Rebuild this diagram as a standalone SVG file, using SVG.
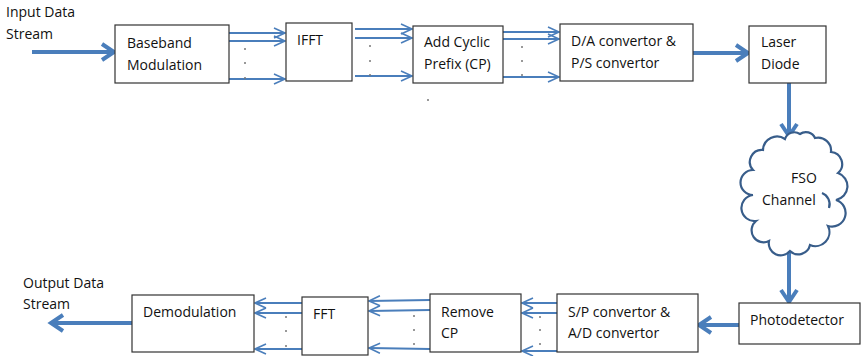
<svg xmlns="http://www.w3.org/2000/svg" width="861" height="356" viewBox="0 0 861 356">
<defs>
<marker id="thin" markerUnits="userSpaceOnUse" markerWidth="14" markerHeight="14" refX="12" refY="7" orient="auto" overflow="visible">
<path d="M1,2 L12,7 L1,12" fill="none" stroke="#4a7ebb" stroke-width="1.6"/>
</marker>
<marker id="thick" markerUnits="userSpaceOnUse" markerWidth="20" markerHeight="20" refX="14" refY="10" orient="auto" overflow="visible">
<path d="M2,2 L14,10 L2,18" fill="none" stroke="#4a7ebb" stroke-width="4"/>
</marker>
</defs>
<style>
.box{fill:#fff;stroke:#333;stroke-width:1.2}
.t{font-family:"Open Sans","Liberation Sans",sans-serif;font-size:14px;fill:#111}
.ln{stroke:#4a7ebb;stroke-width:2;fill:none}
.th{stroke:#4a7ebb;stroke-width:4;fill:none}
.dot{fill:#777}
</style>
<g id="labels">
<text class="t" x="6" y="17">Input Data</text>
<text class="t" x="6" y="39">Stream</text>
<text class="t" x="23" y="288">Output Data</text>
<text class="t" x="23" y="309">Stream</text>
</g>
<g id="connectors">
<line class="th" x1="32" y1="52" x2="114" y2="52" marker-end="url(#thick)"/>
<line class="ln" x1="229" y1="33" x2="285" y2="33" marker-end="url(#thin)"/>
<line class="ln" x1="229" y1="41" x2="285" y2="41" marker-end="url(#thin)"/>
<line class="ln" x1="229" y1="79" x2="285" y2="79" marker-end="url(#thin)"/>
<line class="ln" x1="355" y1="29" x2="412" y2="29" marker-end="url(#thin)"/>
<line class="ln" x1="355" y1="38" x2="412" y2="38" marker-end="url(#thin)"/>
<line class="ln" x1="355" y1="76" x2="412" y2="76" marker-end="url(#thin)"/>
<line class="ln" x1="503" y1="32" x2="559" y2="32" marker-end="url(#thin)"/>
<line class="ln" x1="503" y1="39" x2="559" y2="39" marker-end="url(#thin)"/>
<line class="ln" x1="503" y1="77" x2="559" y2="77" marker-end="url(#thin)"/>
<line class="th" x1="693" y1="53" x2="748" y2="53" marker-end="url(#thick)"/>
<line class="th" x1="789" y1="83" x2="789" y2="136" marker-end="url(#thick)"/>
<line class="th" x1="789" y1="250" x2="789" y2="302" marker-end="url(#thick)"/>
<line class="th" x1="739" y1="325" x2="699" y2="325" marker-end="url(#thick)"/>
<line class="ln" x1="557" y1="303" x2="522" y2="303" marker-end="url(#thin)"/>
<line class="ln" x1="557" y1="313" x2="522" y2="313" marker-end="url(#thin)"/>
<line class="ln" x1="557" y1="351" x2="522" y2="351" marker-end="url(#thin)"/>
<line class="ln" x1="430" y1="300" x2="369" y2="301" marker-end="url(#thin)"/>
<line class="ln" x1="430" y1="310" x2="369" y2="311" marker-end="url(#thin)"/>
<line class="ln" x1="430" y1="349" x2="369" y2="348" marker-end="url(#thin)"/>
<line class="ln" x1="302" y1="303" x2="255" y2="303" marker-end="url(#thin)"/>
<line class="ln" x1="302" y1="313" x2="255" y2="313" marker-end="url(#thin)"/>
<line class="ln" x1="302" y1="349" x2="255" y2="349" marker-end="url(#thin)"/>
<line class="th" x1="132" y1="323" x2="51" y2="323" marker-end="url(#thick)"/>
</g>
<g id="dots">
<circle class="dot" cx="245" cy="49" r="1"/><circle class="dot" cx="245" cy="63" r="1"/><circle class="dot" cx="245" cy="78" r="1"/>
<circle class="dot" cx="370" cy="46" r="1"/><circle class="dot" cx="370" cy="61" r="1"/><circle class="dot" cx="370" cy="75" r="1"/>
<circle class="dot" cx="522" cy="47" r="1"/><circle class="dot" cx="522" cy="61" r="1"/><circle class="dot" cx="522" cy="75" r="1"/>
<circle class="dot" cx="428" cy="100" r="1"/>
<circle class="dot" cx="540" cy="317" r="1"/><circle class="dot" cx="540" cy="330" r="1"/><circle class="dot" cx="540" cy="344" r="1"/>
<circle class="dot" cx="414" cy="316" r="1"/><circle class="dot" cx="414" cy="330" r="1"/><circle class="dot" cx="414" cy="344" r="1"/>
<circle class="dot" cx="286" cy="317" r="1"/><circle class="dot" cx="286" cy="331" r="1"/><circle class="dot" cx="286" cy="346" r="1"/>
</g>
<g id="baseband">
<rect class="box" x="115" y="25" width="114" height="58"/>
<text class="t" x="127" y="48">Baseband</text>
<text class="t" x="127" y="70">Modulation</text>
</g>
<g id="ifft">
<rect class="box" x="286" y="23" width="66" height="58"/>
<text class="t" x="297" y="45">IFFT</text>
</g>
<g id="addcp">
<rect class="box" x="413" y="26" width="90" height="57"/>
<text class="t" x="424" y="47">Add Cyclic</text>
<text class="t" x="424" y="69">Prefix (CP)</text>
</g>
<g id="da">
<rect class="box" x="560" y="24" width="133" height="57"/>
<text class="t" x="571" y="46">D/A convertor &amp;</text>
<text class="t" x="571" y="68">P/S convertor</text>
</g>
<g id="laser">
<rect class="box" x="749" y="26" width="77" height="57"/>
<text class="t" x="761" y="47">Laser</text>
<text class="t" x="761" y="69">Diode</text>
</g>
<g id="fso">
<path d="M763,150 A14,14 0 0 1 785,139 A10,10 0 0 1 800,134 A10,10 0 0 1 815,138 A13,13 0 0 1 831,152 A12,12 0 0 1 838,173 A14,14 0 0 1 836,200 A12,12 0 0 1 828,226 A14,14 0 0 1 810,245 A12,12 0 0 1 790,251 A12,12 0 0 1 769,241 A12,12 0 0 1 756,221 A12,12 0 0 1 753,195 A12,12 0 0 1 753,170 A12,12 0 0 1 763,150 Z" fill="#fff" stroke="#385d8a" stroke-width="2.2"/>
<path d="M822,193 A12,12 0 0 1 829,208" fill="none" stroke="#385d8a" stroke-width="2.2"/>
<text class="t" x="791" y="183">FSO</text>
<text class="t" x="762" y="205">Channel</text>
</g>
<g id="photodetector">
<rect class="box" x="739" y="303" width="121" height="41"/>
<text class="t" x="750" y="325">Photodetector</text>
</g>
<g id="sp">
<rect class="box" x="557" y="294" width="141" height="58"/>
<text class="t" x="568" y="317">S/P convertor &amp;</text>
<text class="t" x="568" y="338">A/D convertor</text>
</g>
<g id="removecp">
<rect class="box" x="430" y="294" width="91" height="58"/>
<text class="t" x="441" y="317">Remove</text>
<text class="t" x="441" y="338">CP</text>
</g>
<g id="fft">
<rect class="box" x="302" y="297" width="66" height="58"/>
<text class="t" x="313" y="319">FFT</text>
</g>
<g id="demod">
<rect class="box" x="132" y="295" width="122" height="57"/>
<text class="t" x="143" y="317">Demodulation</text>
</g>
</svg>
